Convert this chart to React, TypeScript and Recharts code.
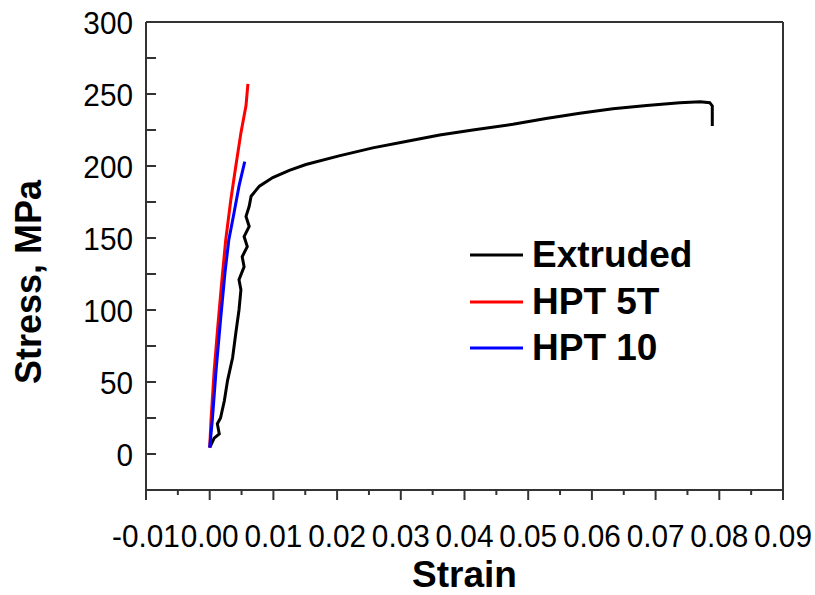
import React from 'react';
import {
  LineChart, Line, XAxis, YAxis, ReferenceLine,
} from 'recharts';

// values
const extrudedStrain = [
  0, 0.0007, 0.0015, 0.0012, 0.0017, 0.0023, 0.0028, 0.0036, 0.0041, 0.0046,
  0.0049, 0.0046, 0.0054, 0.0051, 0.0059, 0.0054, 0.0062, 0.0057, 0.0062, 0.0065,
  0.0078, 0.0099, 0.0125, 0.0151, 0.0203, 0.0256, 0.0308, 0.0361, 0.0413, 0.0476,
  0.0528, 0.0581, 0.0633, 0.0686, 0.0738, 0.077, 0.0785, 0.0789, 0.0789,
];
const extrudedStress = [
  4.4, 11, 14, 21, 25, 37, 51, 67, 84, 100,
  114, 121, 130, 137, 144, 151, 158, 165, 172, 179,
  186, 192, 197, 201, 207, 212.6, 217, 221.5, 225, 229,
  233, 236.6, 239.8, 242, 244, 244.6, 244, 241.7, 227.7,
];

const hpt5Strain = [0, 0.0002, 0.0007, 0.0013, 0.0019, 0.0025, 0.0033, 0.0041, 0.0049, 0.0057, 0.006];
const hpt5Stress = [4.4, 23, 58, 90, 120, 148, 176, 200, 223, 242, 257];

const hpt10Strain = [0, 0.0004, 0.001, 0.0017, 0.0024, 0.003, 0.0038, 0.0046, 0.0055];
const hpt10Stress = [4.4, 23, 58, 93, 126, 148.6, 167, 186, 203];

const xTicks = [
  -0.01, -0.005, 0, 0.005, 0.01, 0.015, 0.02, 0.025, 0.03, 0.035, 0.04,
  0.045, 0.05, 0.055, 0.06, 0.065, 0.07, 0.075, 0.08, 0.085, 0.09,
];
const yTicks = [0, 25, 50, 75, 100, 125, 150, 175, 200, 225, 250, 275, 300];

const seriesNames = ['Extruded', 'HPT 5T', 'HPT 10'];
const seriesColors = ['#000000', '#ff0000', '#0000ff'];

const toPoints = (xs: number[], ys: number[]) => xs.map((x, i) => ({ strain: x, stress: ys[i] }));

const extrudedData = toPoints(extrudedStrain, extrudedStress);
const hpt5Data = toPoints(hpt5Strain, hpt5Stress);
const hpt10Data = toPoints(hpt10Strain, hpt10Stress);

const FONT = '"Liberation Sans", Arial, sans-serif';
const AXIS = '#333333';

// tick labels in the reference are slightly narrow, so squeeze them a bit
const XTick = ({ x, y, payload }: any) => {
  const v = payload.value;
  const major = Math.abs(v * 100 - Math.round(v * 100)) < 1e-6;
  return (
    <g>
      <line x1={x} x2={x} y1={y} y2={y + (major ? 10 : 5)} stroke={AXIS} strokeWidth={2} />
      {major && (
        <text transform={`translate(${x},${y + 57}) scale(0.93,1)`} textAnchor="middle"
          fontSize={32} fontFamily={FONT} fill="#000">
          {v.toFixed(2)}
        </text>
      )}
    </g>
  );
};

const YTick = ({ x, y, payload }: any) => {
  const v = payload.value;
  const major = v % 50 === 0;
  return (
    <g>
      <line x1={x + 13} x2={x + 23} y1={y} y2={y} stroke={AXIS} strokeWidth={2} />
      {major && (
        <text transform={`translate(${x},${y}) scale(0.93,1)`} dy="0.36em" textAnchor="end"
          fontSize={32} fontFamily={FONT} fill="#000">
          {v}
        </text>
      )}
    </g>
  );
};

const YTitle = ({ viewBox }: any) => {
  const cx = viewBox.x + 28;
  const cy = viewBox.y + viewBox.height / 2 + 26;
  return (
    <text transform={`translate(${cx},${cy}) rotate(-90)`} textAnchor="middle" dy="0.35em"
      fontSize={36} fontWeight="bold" fontFamily={FONT} fill="#000">
      Stress, MPa
    </text>
  );
};

const LegendBox = () => (
  <div style={{ position: 'absolute', left: 466, top: 232, fontFamily: FONT }}>
    {seriesNames.map((name, i) => (
      <div key={name} style={{ display: 'flex', alignItems: 'center', height: 46.5 }}>
        <svg width={66} height={10}>
          <line x1={4} x2={57} y1={5} y2={5} stroke={seriesColors[i]} strokeWidth={3} />
        </svg>
        <span style={{ fontSize: 37, fontWeight: 'bold', color: '#000', lineHeight: '46px' }}>{name}</span>
      </div>
    ))}
  </div>
);

export default function App() {
  return (
    <div style={{ position: 'absolute', left: 0, top: 0, width: 815, height: 595, background: '#fff' }}>
      <LineChart width={815} height={595} margin={{ top: 22, right: 32, bottom: 0, left: 0 }}>
        <XAxis
          type="number"
          dataKey="strain"
          domain={[-0.01, 0.09]}
          ticks={xTicks}
          interval={0}
          height={105}
          tickSize={0}
          tickMargin={0}
          tickLine={false}
          tick={<XTick />}
          axisLine={{ stroke: AXIS, strokeWidth: 2 }}
          allowDataOverflow
          label={{
            value: 'Strain', position: 'insideBottom', offset: 8,
            style: { fontSize: 37, fontWeight: 'bold', fontFamily: FONT, fill: '#000' },
          }}
        />
        <YAxis
          type="number"
          domain={[-25, 300]}
          ticks={yTicks}
          interval={0}
          width={146}
          tickSize={0}
          tickMargin={13}
          tickLine={false}
          tick={<YTick />}
          axisLine={{ stroke: AXIS, strokeWidth: 2 }}
          allowDataOverflow
          label={{ content: <YTitle /> }}
        />
        <ReferenceLine y={300} stroke={AXIS} strokeWidth={2} />
        <ReferenceLine x={0.09} stroke={AXIS} strokeWidth={2} />
        <Line data={extrudedData} dataKey="stress" name={seriesNames[0]} stroke={seriesColors[0]}
          strokeWidth={3} dot={false} type="linear" isAnimationActive={false} />
        <Line data={hpt5Data} dataKey="stress" name={seriesNames[1]} stroke={seriesColors[1]}
          strokeWidth={3} dot={false} type="linear" isAnimationActive={false} />
        <Line data={hpt10Data} dataKey="stress" name={seriesNames[2]} stroke={seriesColors[2]}
          strokeWidth={3} dot={false} type="linear" isAnimationActive={false} />
      </LineChart>
      <LegendBox />
    </div>
  );
}
